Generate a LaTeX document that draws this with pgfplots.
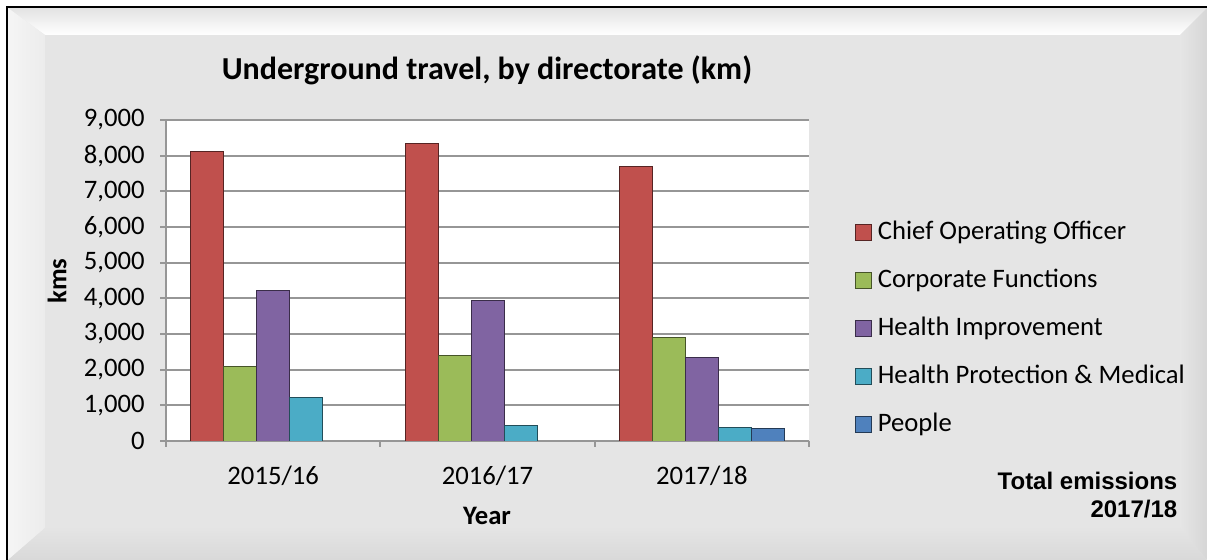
\documentclass[border=0pt]{standalone}
\usepackage{fontspec}
\setmainfont{Carlito}
\newfontfamily\arialfont{Liberation Sans}
\usepackage{pgfplots}
\pgfplotsset{compat=1.18}

\definecolor{cooRed}{HTML}{C0504D}
\definecolor{corpGreen}{HTML}{9BBB59}
\definecolor{hiPurple}{HTML}{8064A2}
\definecolor{hpCyan}{HTML}{4BACC6}
\definecolor{pplBlue}{HTML}{4F81BD}
\definecolor{gridGrey}{HTML}{969696}

\pgfplotsset{
  bev/.style={fill=#1, draw=#1!45!black, line width=0.6pt},
}

\begin{document}
\begin{tikzpicture}[x=0.75pt,y=0.75pt]
  \useasboundingbox (0,0) rectangle (1207,560);
  % frame and bevelled background
  \fill[white] (0,0) rectangle (1207,560);
  \fill[gray!20] (8,0) rectangle (1207,552);
  \shade[top color=gray!22, bottom color=white] (8,552) -- (1207,552) -- (1180,525) -- (45,525) -- cycle;
  \shade[left color=gray!8, right color=gray!15] (8,552) -- (45,525) -- (45,32) -- (8,0) -- cycle;
  \shade[left color=gray!20, right color=gray!32] (1207,552) -- (1180,525) -- (1180,32) -- (1207,0) -- cycle;
  \shade[top color=gray!21, bottom color=gray!30] (8,0) -- (45,32) -- (1180,32) -- (1207,0) -- cycle;
  \draw[black, line width=1.6pt] (7,0) -- (7,553) -- (1207,553);

  \begin{axis}[
    at={(124.5pt,89.25pt)}, anchor=south west,
    scale only axis,
    width=482.25pt, height=240.75pt,
    axis background/.style={fill=white},
    xmin=-0.5, xmax=2.5,
    ymin=0, ymax=9000,
    ybar=0pt, bar width=24.75pt,
    axis x line*=bottom, axis y line*=left,
    axis line style={gridGrey, line width=1.5pt},
    xtick={0,1,2},
    xticklabels={2015/16,2016/17,2017/18},
    minor xtick={-0.5,0.5,1.5,2.5},
    major x tick style={draw=none},
    minor x tick style={gridGrey, line width=1.5pt},
    ytick={0,1000,...,9000},
    y tick style={gridGrey, line width=1.5pt},
    tick align=outside,
    major tick length=4.5pt, minor tick length=4.5pt,
    ymajorgrids,
    grid style={gridGrey, line width=1.5pt},
    tick label style={font=\fontsize{20}{24}\selectfont},
    /pgf/number format/assume math mode=true,
    /pgf/number format/1000 sep={,},
    scaled y ticks=false,
    xticklabel style={yshift=-11pt},
    yticklabel style={xshift=-8pt},
    legend style={at={(1.065,0.70)}, anchor=north west, draw=none, fill=none,
      font=\fontsize{20}{24}\selectfont, row sep=17pt,
      nodes={inner sep=0pt, text height=15pt, text depth=4pt}},
    legend cell align=left,
    legend image code/.code={\path[#1] (0pt,-6pt) rectangle (12pt,6pt);},
    legend columns=1,
  ]
    \addplot[bev=cooRed] coordinates {(0,8110) (1,8350) (2,7700)};
    \addlegendentry{\hspace{4.5pt}Chief Operating Officer}
    \addplot[bev=corpGreen] coordinates {(0,2080) (1,2390) (2,2910)};
    \addlegendentry{\hspace{4.5pt}Corporate Functions}
    \addplot[bev=hiPurple] coordinates {(0,4210) (1,3950) (2,2330)};
    \addlegendentry{\hspace{4.5pt}Health Improvement}
    \addplot[bev=hpCyan] coordinates {(0,1220) (1,440) (2,380)};
    \addlegendentry{\hspace{4.5pt}Health Protection \& Medical}
    \addplot[bev=pplBlue] coordinates {(2,340)};
    \addlegendentry{\hspace{4.5pt}People}
  \end{axis}

  \node[font=\fontsize{24}{28}\selectfont\bfseries] at (487,490) {Underground travel, by directorate (km)};
  \node[font=\fontsize{20}{24}\selectfont\bfseries, rotate=90] at (57,279) {kms};
  \node[font=\fontsize{20}{24}\selectfont\bfseries] at (487,44) {Year};
  \node[font=\arialfont\fontsize{18}{21}\selectfont\bfseries, align=right, anchor=east] at (1182,65) {Total emissions\\2017/18};
\end{tikzpicture}
\end{document}
